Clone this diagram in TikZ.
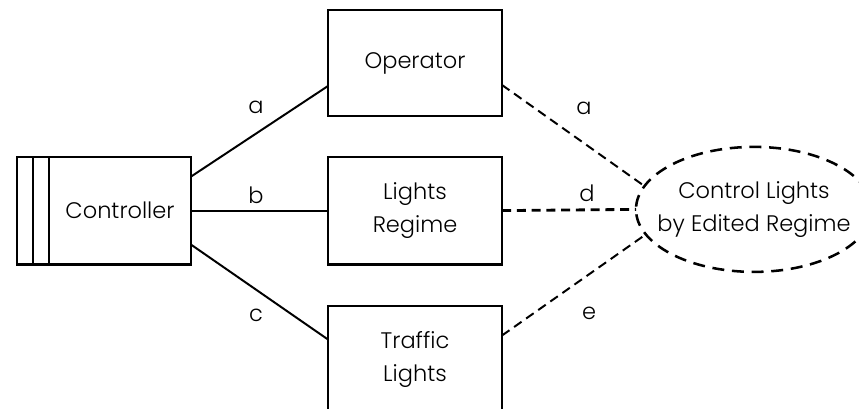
\documentclass[tikz,border=0pt]{standalone}
\usepackage{fontspec}
\setmainfont{Poppins}[UprightFont=* Light]
\usetikzlibrary{shapes.geometric}

\begin{document}
\begin{tikzpicture}[
    every node/.style={font=\fontsize{16}{23}\selectfont},
    box/.style={draw, line width=2pt, inner sep=0pt, outer sep=0pt,
      minimum width=4.35cm, minimum height=2.65cm, align=center},
    link/.style={line width=1.4pt},
    dashlink/.style={line width=1.4pt, dash pattern=on 6.5pt off 4pt}]
  \useasboundingbox (0,0) rectangle (21.475,10.225);
  \clip (0,0) rectangle (21.475,10.225);
  % controller with its two strips
  \node[box, minimum width=3.55cm, minimum height=2.675cm] (ctrl) at (3.0,4.96) {Controller};
  \draw[line width=2pt] (ctrl.north west) rectangle ([xshift=-0.8cm]ctrl.south west);
  \draw[line width=2pt] ([xshift=-0.4cm]ctrl.north west) -- ([xshift=-0.4cm]ctrl.south west);
  % the three boxes
  \node[box] (op) at (10.375,8.65) {Operator};
  \node[box, minimum height=2.675cm] (reg) at (10.375,4.96) {Lights\\Regime};
  \node[box, minimum height=2.675cm] (traf) at (10.375,1.2375) {Traffic\\Lights};
  % use case
  \node[draw, ellipse, line width=1.8pt, dash pattern=on 8.5pt off 5.5pt,
    inner xsep=-1cm, inner ysep=-0.5cm, outer sep=0pt,
    minimum width=5.9cm, minimum height=3.125cm, align=center]
    (ell) at (18.85,4.99) {Control Lights\\by Edited Regime};
  % links
  \draw[link] ([yshift=0.85cm]ctrl.east) -- ([yshift=-0.575cm]op.west);
  \draw[link] (ctrl.east) -- (reg.west);
  \draw[link] ([yshift=-0.85cm]ctrl.east) -- ([yshift=0.5cm]traf.west);
  \draw[dashlink] ([yshift=-0.55cm]op.east) -- (ell.168);
  \draw[dashlink, line width=2pt] (reg.east) -- (ell.west);
  \draw[dashlink] ([yshift=0.6cm]traf.east) -- (ell.193);
  % labels
  \node (lblA) at (6.4,7.55) {a};
  \node (lblB) at (6.4,5.35) {b};
  \node (lblC) at (6.4,2.35) {c};
  \node (lblA2) at (14.6,7.525) {a};
  \node (lblD) at (14.675,5.4) {d};
  \node (lblE) at (14.725,2.4) {e};
\end{tikzpicture}
\end{document}
